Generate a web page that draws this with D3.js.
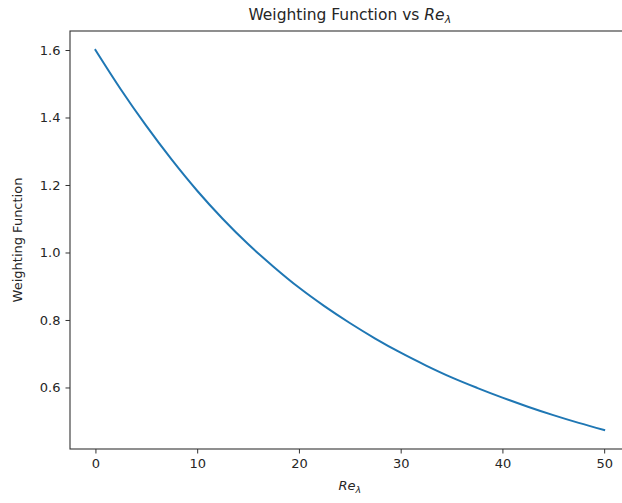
<!DOCTYPE html>
<html>
<head>
<meta charset="utf-8">
<script src="https://cdn.jsdelivr.net/npm/d3@7"></script>
<style>
  html, body { margin: 0; padding: 0; background: #fff; }
  svg { display: block; font-family: "DejaVu Sans", sans-serif; }
</style>
</head>
<body>
<div id="chart"></div>
<script>
// values
const reLambda = [0, 2.5, 5, 7.5, 10, 12.5, 15, 17.5, 20, 22.5, 25,
                  27.5, 30, 32.5, 35, 37.5, 40, 42.5, 45, 47.5, 50];
const weighting = [1.600, 1.483, 1.375, 1.275, 1.183, 1.100, 1.025, 0.958, 0.896, 0.841, 0.791,
                   0.745, 0.703, 0.665, 0.630, 0.599, 0.570, 0.543, 0.518, 0.495, 0.474];
const xTicks = [0, 10, 20, 30, 40, 50];
const yTicks = [0.6, 0.8, 1.0, 1.2, 1.4, 1.6];

const width = 622, height = 503;
const plotLeft = 70, plotRight = 629.6, plotTop = 31, plotBottom = 449;

const svg = d3.select("#chart").append("svg")
    .attr("width", width)
    .attr("height", height);

const x = d3.scaleLinear().domain([-2.5, 52.5]).range([plotLeft, plotRight]);
const y = d3.scaleLinear().domain([0.4177, 1.6563]).range([plotBottom, plotTop]);

const textColor = "#262626";

// x axis
const xAxis = svg.append("g")
    .attr("transform", `translate(0,${plotBottom})`)
    .call(d3.axisBottom(x).tickValues(xTicks).tickFormat(d3.format("d")).tickSizeOuter(0).tickSize(4.5).tickPadding(5));
// y axis
const yAxis = svg.append("g")
    .attr("transform", `translate(${plotLeft},0)`)
    .call(d3.axisLeft(y).tickValues(yTicks).tickFormat(d3.format(".1f")).tickSizeOuter(0).tickSize(4.5).tickPadding(5));

[xAxis, yAxis].forEach(g => {
    g.select(".domain").remove();
    g.selectAll("line").attr("stroke", "#333").attr("stroke-width", 1);
    g.selectAll("text").attr("fill", textColor).style("font-size", "13px")
        .style("font-family", "DejaVu Sans, sans-serif");
});

// frame
svg.append("rect")
    .attr("x", plotLeft).attr("y", plotTop)
    .attr("width", plotRight - plotLeft).attr("height", plotBottom - plotTop)
    .attr("fill", "none").attr("stroke", "#333").attr("stroke-width", 1.1);

// line
const line = d3.line()
    .x((d, i) => x(reLambda[i]))
    .y(d => y(d))
    .curve(d3.curveMonotoneX);

svg.append("path")
    .datum(weighting)
    .attr("d", line)
    .attr("fill", "none")
    .attr("stroke", "#1f77b4")
    .attr("stroke-width", 2)
    .attr("stroke-linecap", "square");

// title
const title = svg.append("text")
    .attr("x", (plotLeft + plotRight) / 2).attr("y", 20)
    .attr("text-anchor", "middle")
    .attr("fill", textColor)
    .style("font-size", "15.5px");
title.append("tspan").text("Weighting Function vs ");
title.append("tspan").style("font-style", "italic").text("Re");
title.append("tspan").style("font-style", "italic").style("font-size", "11px").attr("dy", 3).text("λ");

// x label
const xLabel = svg.append("text")
    .attr("x", (plotLeft + plotRight) / 2).attr("y", 490)
    .attr("text-anchor", "middle")
    .attr("fill", textColor)
    .style("font-size", "13px");
xLabel.append("tspan").style("font-style", "italic").text("Re");
xLabel.append("tspan").style("font-style", "italic").style("font-size", "9.5px").attr("dy", 2.5).text("λ");

// y label
svg.append("text")
    .attr("transform", `translate(22,${(plotTop + plotBottom) / 2}) rotate(-90)`)
    .attr("text-anchor", "middle")
    .attr("fill", textColor)
    .style("font-size", "13px")
    .text("Weighting Function");
</script>
</body>
</html>
